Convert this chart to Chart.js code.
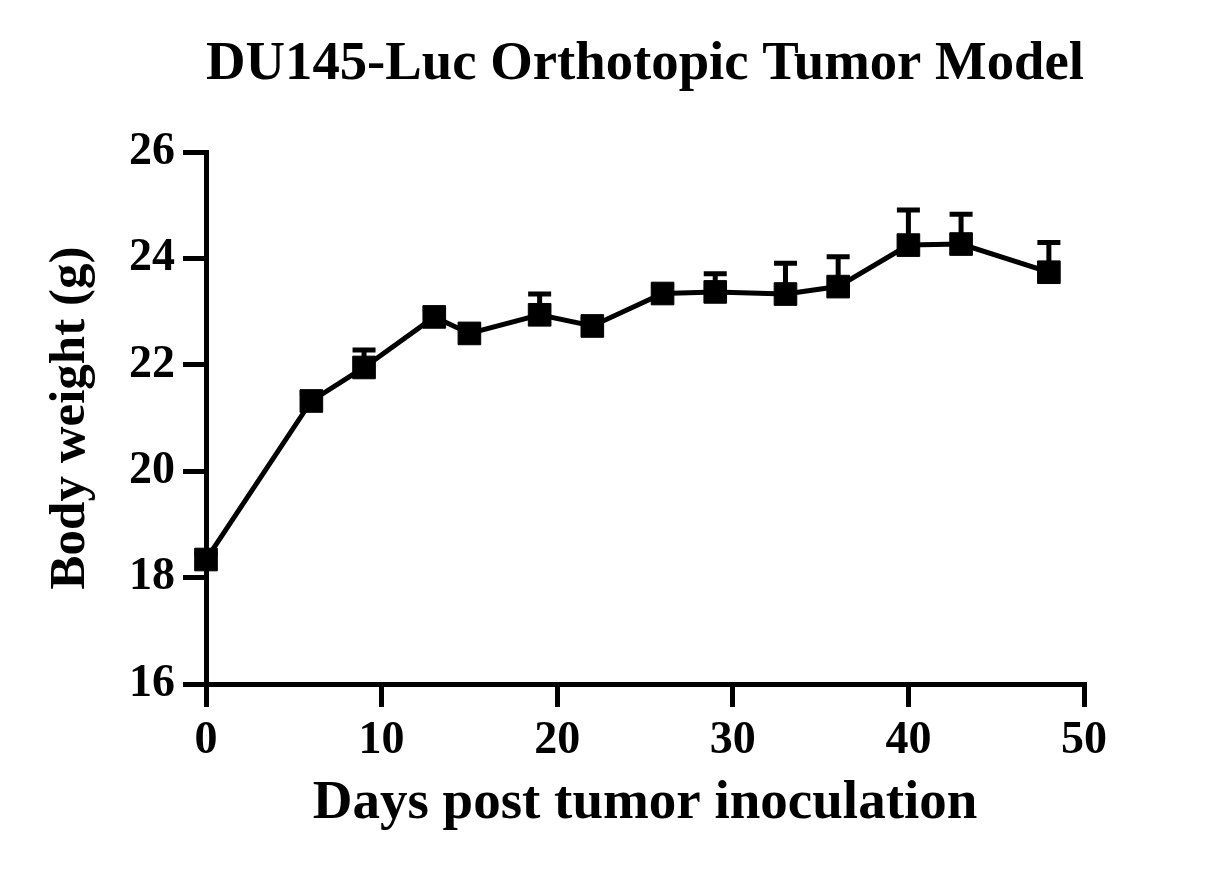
<!DOCTYPE html>
<html>
<head>
<meta charset="utf-8">
<title>DU145-Luc Orthotopic Tumor Model</title>
<script src="https://cdn.jsdelivr.net/npm/chart.js@4.4.1/dist/chart.umd.min.js"></script>
<style>
  body { margin: 0; background: #fff; }
</style>
</head>
<body>
<canvas id="grafica" width="1230" height="873"></canvas>
<script>
// dias tras la inoculacion y peso medio (g)
const dias = [0, 6, 9, 13, 15, 19, 22, 26, 29, 33, 36, 40, 43, 48];
const pesoMedio = [18.34, 21.32, 21.95, 22.90, 22.59, 22.94, 22.73, 23.34, 23.37, 23.33, 23.47, 24.25, 24.27, 23.74];
// barra de error hacia arriba (SD); las pequeñas quedan tapadas por el marcador
const errorSuperior = [0.12, 0.15, 0.33, 0.15, 0.12, 0.39, 0.12, 0.15, 0.34, 0.58, 0.56, 0.66, 0.56, 0.56];
const ticksX = [0, 10, 20, 30, 40, 50];
const ticksY = [16, 18, 20, 22, 24, 26];

const fuente = "'Liberation Serif', 'Times New Roman', serif";

const puntos = dias.map((d, i) => ({ x: d, y: pesoMedio[i] }));

// dibuja las barras de error antes de la linea para que los cuadrados las tapen
const barrasError = {
    id: 'barrasError',
    beforeDatasetsDraw(chart) {
        const ctx = chart.ctx;
        const escalaX = chart.scales.x;
        const escalaY = chart.scales.y;
        const anchoCapuchon = 23;
        ctx.save();
        ctx.strokeStyle = '#000';
        ctx.lineWidth = 5;
        for (let i = 0; i < dias.length; i++) {
            const px = escalaX.getPixelForValue(dias[i]);
            const py = escalaY.getPixelForValue(pesoMedio[i]);
            const arriba = escalaY.getPixelForValue(pesoMedio[i] + errorSuperior[i]);
            ctx.beginPath();
            ctx.moveTo(px, py);
            ctx.lineTo(px, arriba);
            ctx.moveTo(px - anchoCapuchon / 2, arriba);
            ctx.lineTo(px + anchoCapuchon / 2, arriba);
            ctx.stroke();
        }
        ctx.restore();
    }
};

var grafica = new Chart(document.getElementById('grafica'), {
    type: 'line',
    data: {
        datasets: [
            {
                label: 'Body weight',
                data: puntos,
                borderColor: '#000',
                backgroundColor: '#000',
                borderWidth: 5,
                tension: 0,
                pointStyle: 'rect',
                pointRadius: 16,
                pointHoverRadius: 16,
                pointBorderWidth: 1,
                pointBackgroundColor: '#000',
                pointBorderColor: '#000',
                clip: false
            }
        ]
    },
    options: {
        responsive: false,
        animation: false,
        events: [],
        layout: { padding: { top: 0, right: 146, bottom: 0, left: 0 } },
        plugins: {
            legend: { display: false },
            tooltip: { enabled: false },
            title: {
                display: true,
                text: 'DU145-Luc Orthotopic Tumor Model',
                fullSize: false,
                color: '#000',
                font: { family: fuente, size: 55, weight: 'bold' },
                padding: { top: 32, bottom: 54 }
            }
        },
        scales: {
            x: {
                type: 'linear',
                min: 0,
                max: 50,
                afterBuildTicks: (s) => { s.ticks = ticksX.map(v => ({ value: v })); },
                afterFit: (s) => { s.height = 189; },
                ticks: {
                    color: '#000',
                    font: { family: fuente, size: 46, weight: 'bold' },
                    padding: 7,
                    maxRotation: 0
                },
                grid: { drawOnChartArea: false, color: '#000', lineWidth: 5, tickLength: 23 },
                border: { color: '#000', width: 5 },
                title: {
                    display: true,
                    text: 'Days post tumor inoculation',
                    color: '#000',
                    font: { family: fuente, size: 55, weight: 'bold' },
                    padding: { top: 0, bottom: 36 }
                }
            },
            y: {
                min: 16,
                max: 26,
                afterBuildTicks: (s) => { s.ticks = ticksY.map(v => ({ value: v })); },
                afterFit: (s) => { s.width = 206; },
                ticks: {
                    color: '#000',
                    font: { family: fuente, size: 46, weight: 'bold' },
                    padding: 8
                },
                grid: { drawOnChartArea: false, color: '#000', lineWidth: 5, tickLength: 23 },
                border: { color: '#000', width: 5 },
                title: {
                    display: true,
                    text: 'Body weight (g)',
                    color: '#000',
                    font: { family: fuente, size: 51, weight: 'bold' },
                    padding: { top: 40, bottom: 0 }
                }
            }
        }
    },
    plugins: [barrasError]
});
</script>
</body>
</html>
